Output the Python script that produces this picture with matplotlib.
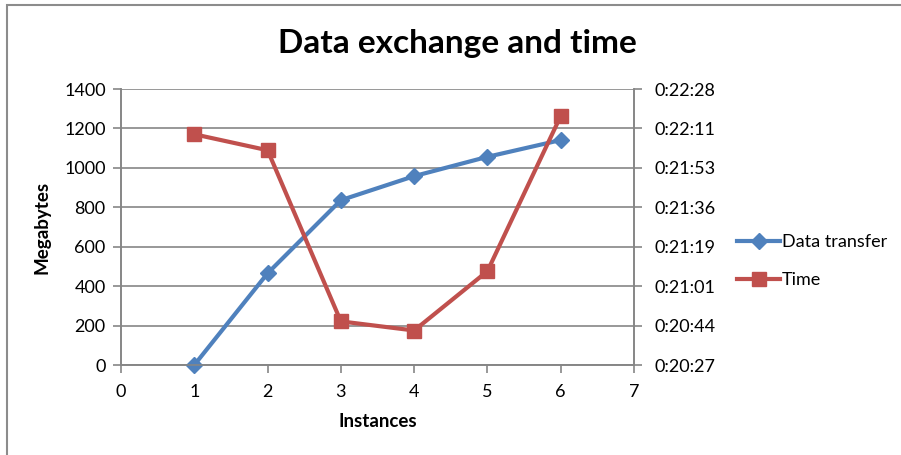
import matplotlib
matplotlib.use("Agg")
import matplotlib.pyplot as plt
from matplotlib.patches import Rectangle
from matplotlib.ticker import FuncFormatter

plt.rcParams['font.family'] = ['Lato', 'DejaVu Sans']

# data
instances = [1, 2, 3, 4, 5, 6]
data_transfer = [0, 465, 836, 958, 1056, 1141]
time_labels = ['0:22:08', '0:22:01', '0:20:46', '0:20:42', '0:21:08', '0:22:16']

blue = '#4F81BD'
red = '#C0504D'
grid_col = '#868686'


def to_seconds(s):
    h, m, sec = s.split(':')
    return int(h) * 3600 + int(m) * 60 + int(sec)


def fmt_time(v, pos=None):
    v = int(round(v))
    return '%d:%02d:%02d' % (v // 3600, (v % 3600) // 60, v % 60)


time_secs = [to_seconds(t) for t in time_labels]

# excel style time axis: 0.0142 .. 0.0156 days, step 0.0002
t_min = 0.0142 * 86400
t_max = 0.0156 * 86400
t_step = 0.0002 * 86400

fig = plt.figure(figsize=(9.01, 4.55), dpi=100)
fig.patches.append(Rectangle((6.5 / 901, -0.1), 1.2, 1.1 - 5.5 / 455,
                             transform=fig.transFigure, fill=False,
                             edgecolor='#8C8C8C', linewidth=1.5))
ax = fig.add_axes([121 / 901, 1 - 365 / 455, 513 / 901, 276 / 455])
ax2 = ax.twinx()

ax.plot(instances, data_transfer, color=blue, linewidth=3, marker='D',
        markersize=8, label='Data transfer', clip_on=False, zorder=3)
ax2.plot(instances, time_secs, color=red, linewidth=3, marker='s',
         markersize=10, label='Time', clip_on=False, zorder=3)

ax.set_xlim(0, 7)
ax.set_ylim(0, 1400)
ax.set_xticks(range(0, 8))
ax.set_yticks(range(0, 1401, 200))
ax2.set_ylim(t_min, t_max)
ax2.set_yticks([t_min + i * t_step for i in range(8)])
ax2.yaxis.set_major_formatter(FuncFormatter(fmt_time))

ax.grid(axis='y', color=grid_col, linewidth=1.2)
ax.set_axisbelow(True)

for a in (ax, ax2):
    a.spines['top'].set_visible(False)
    for side in ('left', 'right', 'bottom'):
        a.spines[side].set_color(grid_col)
        a.spines[side].set_linewidth(1.2)
    a.tick_params(colors=grid_col, labelcolor='black', labelsize=13,
                  length=6, width=1.2)
ax.tick_params(axis='x', pad=8)
ax.tick_params(axis='y', pad=5)
ax2.tick_params(axis='y', pad=9)

ax.set_xlabel('Instances', fontsize=13.5, fontweight='bold', labelpad=9)
ax.set_ylabel('Megabytes', fontsize=13.5, fontweight='bold', labelpad=10)
fig.text(457 / 901, 1 - 43 / 455, 'Data exchange and time', fontsize=24,
         fontweight='bold', ha='center', va='center')

h1, l1 = ax.get_legend_handles_labels()
h2, l2 = ax2.get_legend_handles_labels()
fig.legend(h1 + h2, l1 + l2, loc='center left',
           bbox_to_anchor=(737 / 901, 1 - 261 / 455), frameon=False,
           borderpad=0, borderaxespad=0,
           fontsize=13, handlelength=2.4, handletextpad=0.1, labelspacing=1.2)

fig.savefig('out.png', dpi=100)
